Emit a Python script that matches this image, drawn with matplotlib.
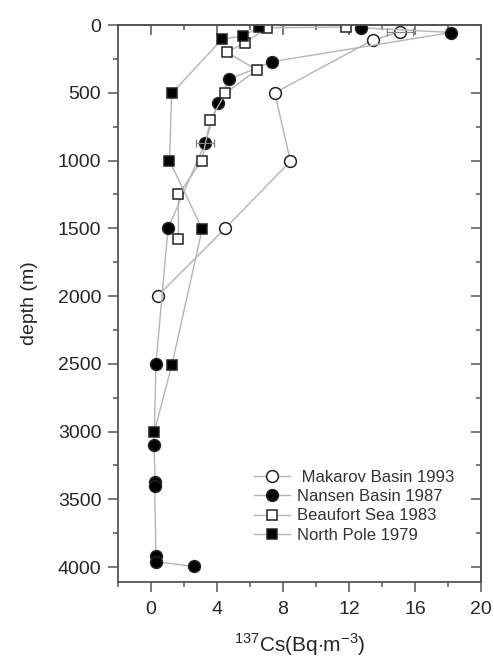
import matplotlib
matplotlib.use("Agg")
import matplotlib.pyplot as plt
from matplotlib.ticker import MultipleLocator

plt.rcParams['font.family'] = ['Liberation Sans', 'DejaVu Sans']
plt.rcParams['mathtext.fontset'] = 'custom'
plt.rcParams['mathtext.rm'] = 'Liberation Sans'

# 137Cs profiles (Bq/m3) against depth (m)
makarov_cs = [15.1, 13.45, 7.5, 8.45, 4.5, 0.4]
makarov_depth = [50, 110, 500, 1005, 1500, 2000]

nansen_cs = [12.7, 18.2, 7.35, 4.75, 4.05, 3.28, 1.03, 0.3, 0.18, 0.25, 0.22, 0.3, 0.3, 2.58]
nansen_depth = [20, 55, 270, 400, 575, 870, 1500, 2500, 3100, 3370, 3400, 3920, 3960, 3995]

beaufort_cs = [11.8, 7.05, 5.7, 4.6, 6.4, 4.5, 3.6, 3.08, 1.66, 1.66]
beaufort_depth = [15, 20, 130, 200, 330, 505, 700, 1000, 1250, 1580]

npole_cs = [6.55, 5.6, 4.3, 1.25, 1.12, 3.1, 1.27, 0.2]
npole_depth = [15, 80, 105, 505, 1000, 1505, 2505, 3000]

fig = plt.figure(figsize=(4.94, 6.68), dpi=100)
ax = fig.add_axes([0.2389, 0.1287, 0.7348, 0.8338])

line_kw = dict(color='#b4b4b4', lw=1.0, markeredgecolor='#222222', markeredgewidth=1.1)

ax.plot(makarov_cs, makarov_depth, marker='o', ms=8.5, markerfacecolor='white',
        label=' Makarov Basin 1993', **line_kw)
ax.plot(nansen_cs, nansen_depth, marker='o', ms=8.5, markerfacecolor='black',
        label='Nansen Basin 1987', **line_kw)
ax.plot(beaufort_cs, beaufort_depth, marker='s', ms=7.5, markerfacecolor='white',
        label='Beaufort Sea 1983', **line_kw)
ax.plot(npole_cs, npole_depth, marker='s', ms=7.5, markerfacecolor='black',
        label='North Pole 1979', **line_kw)

# error bars on two of the samples
ax.errorbar([nansen_cs[5]], [nansen_depth[5]], xerr=0.55, fmt='none',
            ecolor='#888888', elinewidth=0.9, capsize=3)
ax.errorbar([makarov_cs[0]], [makarov_depth[0]], xerr=0.8, fmt='none',
            ecolor='#888888', elinewidth=0.9, capsize=3)

ax.set_xlim(-2, 20)
ax.set_ylim(4110, 0)
ax.xaxis.set_major_locator(MultipleLocator(4))
ax.xaxis.set_minor_locator(MultipleLocator(2))
ax.yaxis.set_major_locator(MultipleLocator(500))
ax.yaxis.set_minor_locator(MultipleLocator(250))

spine_col = '#555555'
for s in ax.spines.values():
    s.set_color(spine_col)
    s.set_linewidth(1.3)

ax.tick_params(which='both', direction='out', color=spine_col, width=1.1,
               labelsize=14, labelcolor='#262626')
ax.tick_params(which='major', length=7)
ax.tick_params(which='minor', length=3.5)
ax.tick_params(axis='x', pad=7)
ax.tick_params(axis='y', pad=5)

# inward ticks on top and right
secx = ax.secondary_xaxis('top')
secx.xaxis.set_major_locator(MultipleLocator(4))
secx.xaxis.set_minor_locator(MultipleLocator(2))
secx.tick_params(which='both', direction='in', color=spine_col, width=1.1,
                 labeltop=False)
secx.tick_params(which='major', length=7)
secx.tick_params(which='minor', length=3.5)
secy = ax.secondary_yaxis('right')
secy.yaxis.set_major_locator(MultipleLocator(500))
secy.yaxis.set_minor_locator(MultipleLocator(250))
secy.tick_params(which='both', direction='in', color=spine_col, width=1.1,
                 labelright=False)
secy.tick_params(which='major', length=7)
secy.tick_params(which='minor', length=3.5)
for sec in (secx, secy):
    for s in sec.spines.values():
        s.set_color(spine_col)
        s.set_linewidth(1.3)

ax.set_ylabel('depth (m)', fontsize=14, color='#262626', labelpad=14)
ax.set_xlabel(r'$^{137}$Cs(Bq$\cdot$m$^{-3}$)', fontsize=15, color='#262626',
              labelpad=9)

leg = ax.legend(loc='center', bbox_to_anchor=(0.65, 0.136), frameon=False,
                fontsize=12, handlelength=2.2, handletextpad=0.4,
                labelspacing=0.25, borderaxespad=0)
for t in leg.get_texts():
    t.set_color('#333333')

fig.savefig('out.png', dpi=100)
